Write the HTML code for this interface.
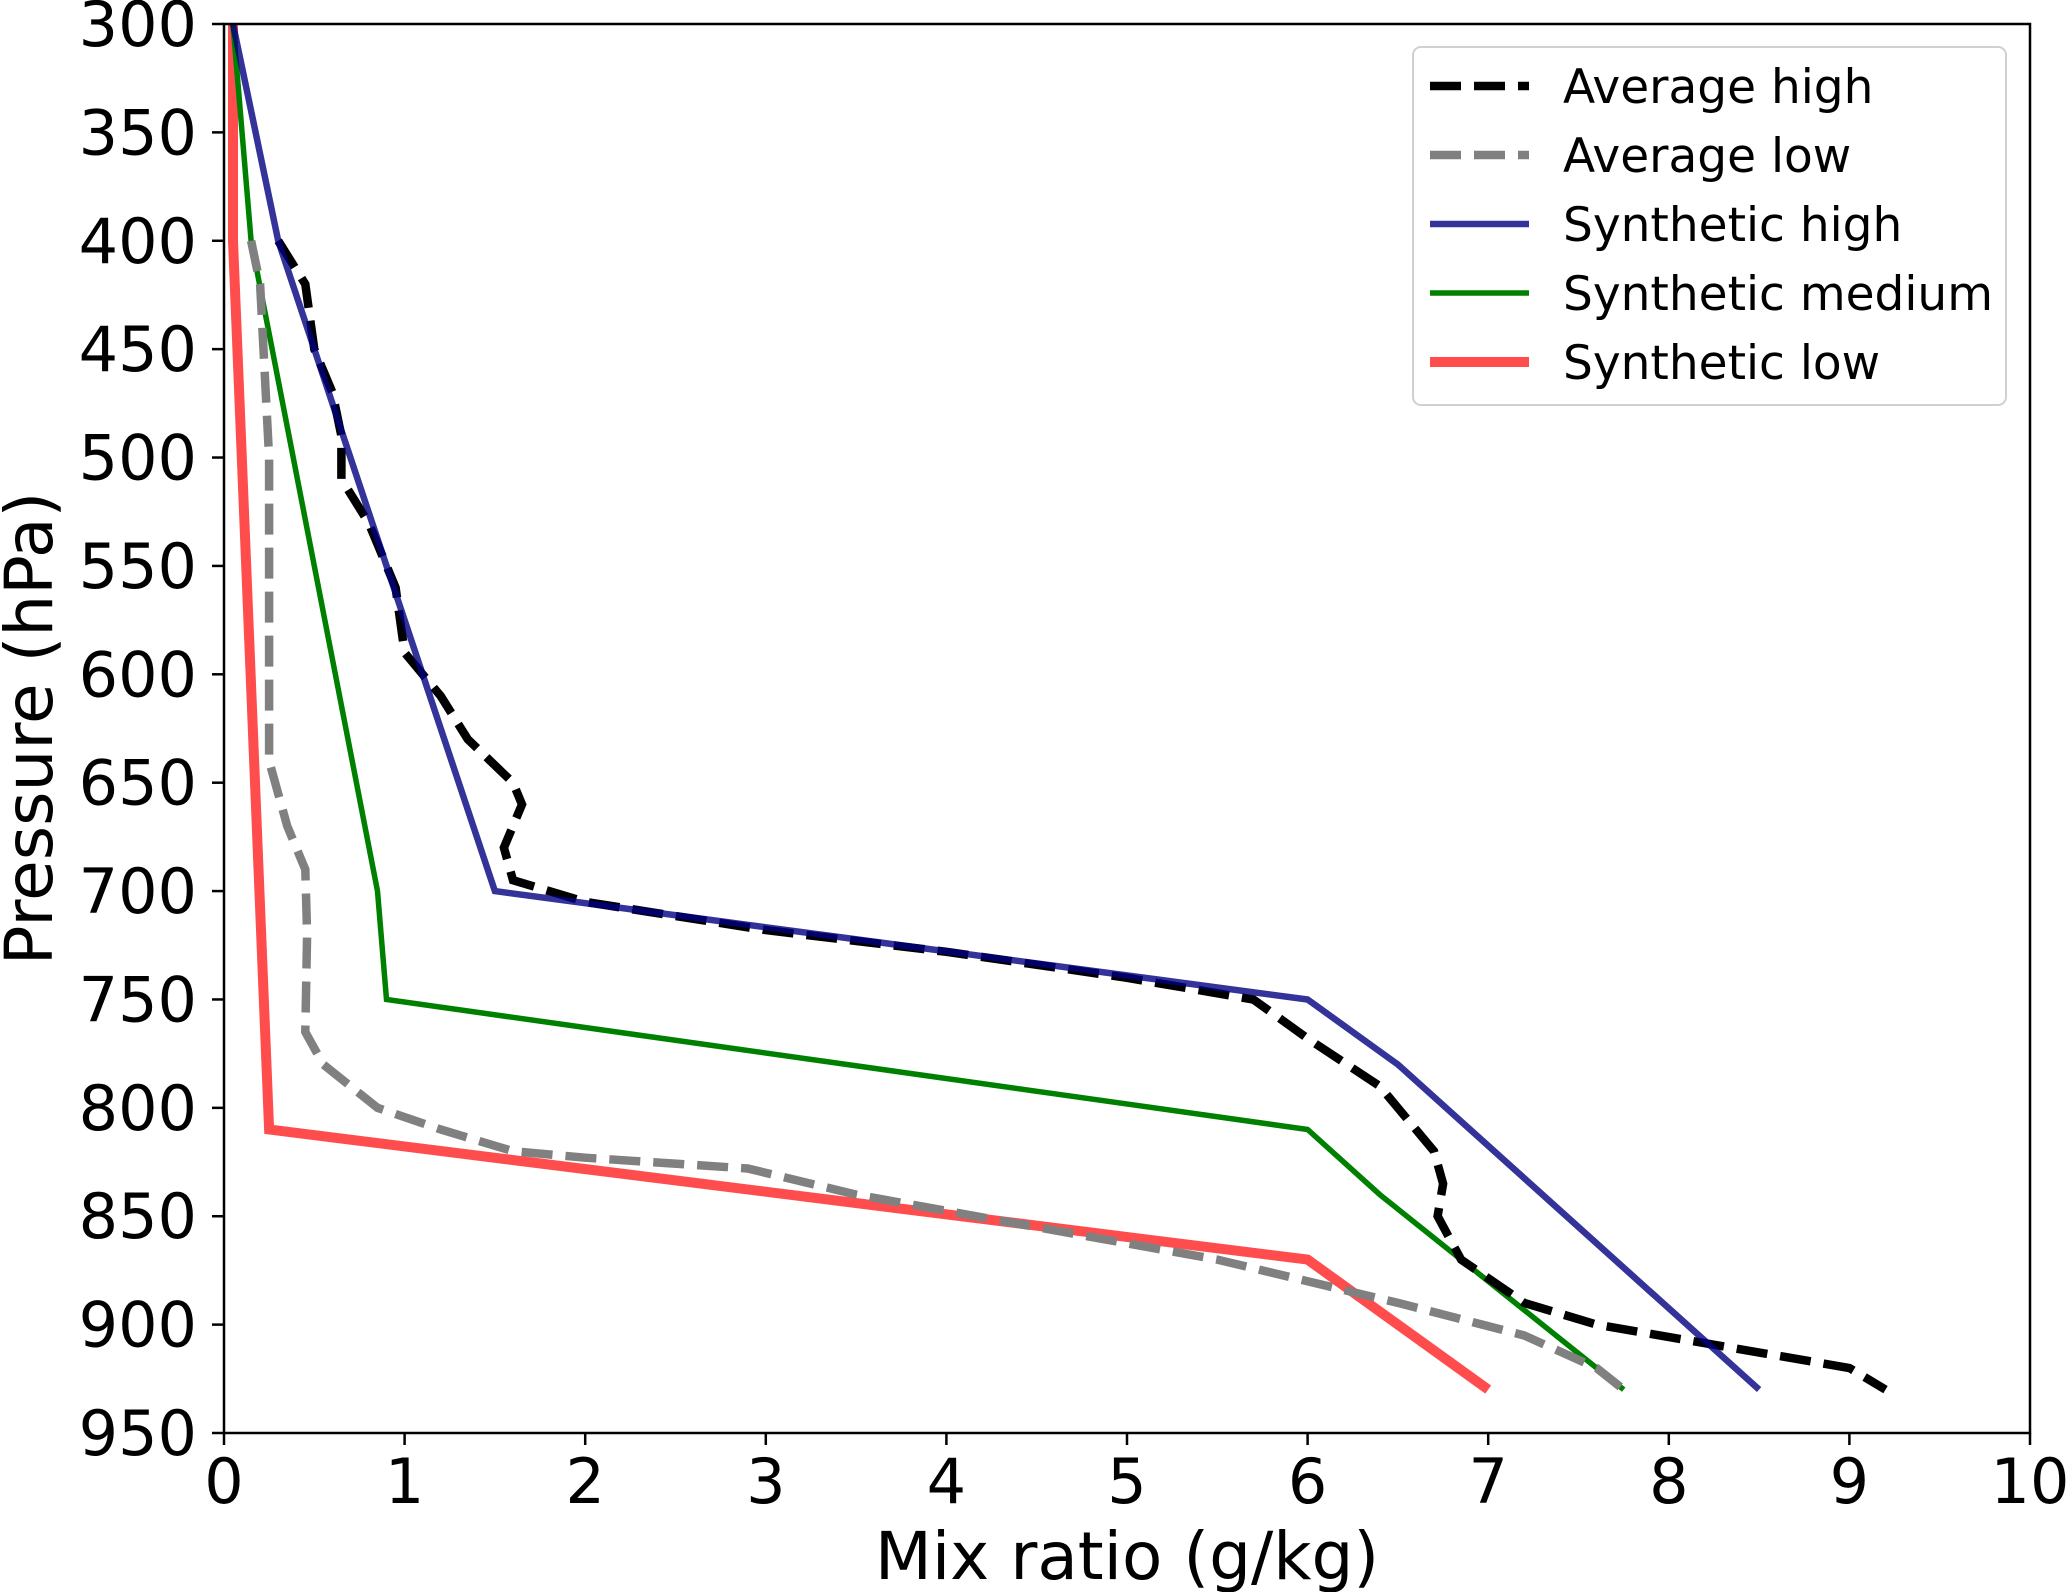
<!DOCTYPE html>
<html><head><meta charset="utf-8"><style>
body{margin:0;background:#fff;}
svg{display:block;font-family:"DejaVu Sans","Liberation Sans",sans-serif;}
</style></head><body>
<svg id="chart" width="2067" height="1592" viewBox="0 0 2067 1592" xmlns="http://www.w3.org/2000/svg">
<g id="series"></g>
<g id="axes"></g>
<g id="legend"></g>
</svg>
<script>
const xTicks=[0,1,2,3,4,5,6,7,8,9,10];
const yTicks=[300,350,400,450,500,550,600,650,700,750,800,850,900,950];
const avgHighX=[0.3,0.45,0.5,0.6,0.65,0.65,0.8,0.95,1.0,1.2,1.35,1.6,1.65,1.55,1.6,2,3,4,5,5.7,6,6.4,6.7,6.75,6.72,6.85,7.2,7.6,8.3,9,9.2];
const avgHighP=[400,420,450,470,490,510,530,560,590,610,630,650,660,680,695,705,718,728,740,750,768,790,820,835,850,870,890,900,910,920,930];
const avgLowX=[0.15,0.2,0.25,0.25,0.35,0.45,0.46,0.45,0.55,0.7,0.85,1.2,1.6,2,2.9,3.5,4.5,5.5,6.5,7.2,7.6,7.75];
const avgLowP=[400,420,500,640,670,690,720,765,780,790,800,810,820,823,828,840,855,870,890,905,920,930];
const synHighX=[0.05,0.3,1.5,6,6.5,8.5];
const synHighP=[300,400,700,750,780,930];
const synMedX=[0.05,0.15,0.85,0.9,6,6.4,7.75];
const synMedP=[300,400,700,750,810,840,930];
const synLowX=[0.05,0.05,0.25,6,7];
const synLowP=[300,400,810,870,930];
const legendLabels=["Average high","Average low","Synthetic high","Synthetic medium","Synthetic low"];

const L=224,R=2030,T=24,B=1433;
const xs=v=>L+(v-0)/(10-0)*(R-L);
const ys=p=>T+(p-300)/(950-300)*(B-T);
const NS="http://www.w3.org/2000/svg";
function mk(tag,attrs,parent){const e=document.createElementNS(NS,tag);for(const k in attrs)e.setAttribute(k,attrs[k]);parent.appendChild(e);return e;}
const sg=document.getElementById('series');
const styles=[
 {x:synLowX,p:synLowP,stroke:'#ff0000',w:10,op:0.7,dash:null,name:'synthetic-low-line'},
 {x:synMedX,p:synMedP,stroke:'#008000',w:5.5,op:1,dash:null,name:'synthetic-medium-line'},
 {x:avgLowX,p:avgLowP,stroke:'#808080',w:8.5,op:1,dash:'31,13',name:'average-low-line'},
 {x:avgHighX,p:avgHighP,stroke:'#000000',w:8.5,op:1,dash:'31,13',name:'average-high-line'},
 {x:synHighX,p:synHighP,stroke:'#000080',w:6.5,op:0.8,dash:null,name:'synthetic-high-line'}
];
styles.forEach(s=>{
 const d=s.x.map((v,i)=>(i?'L':'M')+xs(v).toFixed(1)+','+ys(s.p[i]).toFixed(1)).join(' ');
 const el=mk('path',{d:d,fill:'none',stroke:s.stroke,'stroke-width':s.w,'stroke-opacity':s.op},sg);
 if(s.dash)el.setAttribute('stroke-dasharray',s.dash);
 
 
});
const ag=document.getElementById('axes');
const fr=mk('rect',{x:L,y:T,width:R-L,height:B-T,fill:'none',stroke:'#000','stroke-width':2.5},ag);


xTicks.forEach(t=>{
 mk('line',{x1:xs(t),x2:xs(t),y1:B,y2:B+12,stroke:'#000','stroke-width':2.5},ag);
 const tx=mk('text',{x:xs(t),y:1503,'font-size':62,'text-anchor':'middle'},ag);
 tx.textContent=t;
 
 
});
yTicks.forEach(t=>{
 mk('line',{x1:L-12,x2:L,y1:ys(t),y2:ys(t),stroke:'#000','stroke-width':2.5},ag);
 const tx=mk('text',{x:L-27,y:ys(t)+22,'font-size':62,'text-anchor':'end'},ag);
 tx.textContent=t;
 
 
});
const xl=mk('text',{x:(L+R)/2,y:1579,'font-size':66,'text-anchor':'middle'},ag);
xl.textContent='Mix ratio (g/kg)';


const yl=mk('text',{x:0,y:0,'font-size':66,'text-anchor':'middle',transform:`translate(52,${(T+B)/2}) rotate(-90)`},ag);
yl.textContent='Pressure (hPa)';


const lg=document.getElementById('legend');
const box=mk('rect',{x:1413,y:47,width:593,height:358,rx:8,fill:'#fff','fill-opacity':0.8,stroke:'#d0d0d0','stroke-width':2},lg);


const order=[3,2,4,1,0];
legendLabels.forEach((lab,i)=>{
 const s=styles[order[i]];
 const y=86+i*69;
 const ln=mk('line',{x1:1430,x2:1529,y1:y,y2:y,stroke:s.stroke,'stroke-width':s.w,'stroke-opacity':s.op},lg);
 if(s.dash)ln.setAttribute('stroke-dasharray',s.dash);
 
 
 const tx=mk('text',{x:1563,y:y+17,'font-size':47},lg);
 tx.textContent=lab;
 
 
});
</script>
</body></html>
